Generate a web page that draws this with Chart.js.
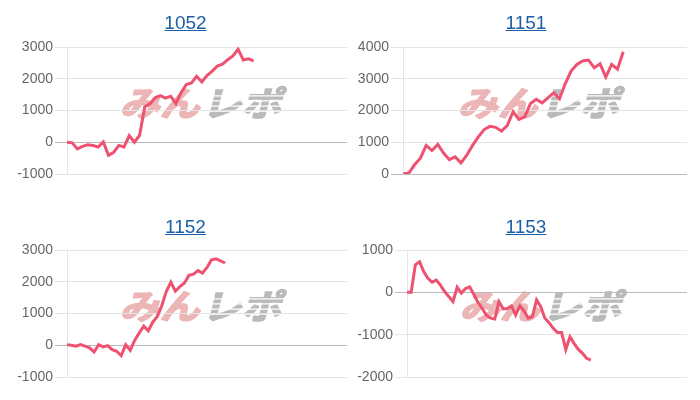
<!DOCTYPE html>
<html>
<head>
<meta charset="utf-8">
<script src="https://cdn.jsdelivr.net/npm/chart.js@4"></script>
<style>
  body{margin:0;background:#fff;}
  #wrap{position:relative;width:700px;height:400px;overflow:hidden;}
  .panel{position:absolute;width:350px;height:200px;}
  .panel canvas{position:absolute;left:0;top:0;}
  .ttl{position:absolute;width:200px;text-align:center;font:19px Arial,"Liberation Sans",sans-serif;z-index:2;}
  .ttl a{color:#1d5fa6;text-decoration:underline;}
</style>
</head>
<body>
<div id="wrap"></div>
<script>
// data
const titles = ["1052", "1151", "1152", "1153"];
const values1052 = [0, -20, -210, -130, -80, -100, -150, 10, -410, -320, -100, -150, 210, 0, 220, 1120, 1210, 1400, 1470, 1390, 1450, 1220, 1560, 1820, 1870, 2080, 1900, 2100, 2240, 2400, 2460, 2600, 2720, 2930, 2590, 2630, 2560];
const values1151 = [0, 30, 290, 500, 900, 740, 930, 660, 450, 540, 350, 590, 900, 1170, 1400, 1500, 1470, 1350, 1530, 1960, 1720, 1800, 2220, 2350, 2240, 2400, 2560, 2370, 2850, 3240, 3450, 3560, 3590, 3350, 3470, 3050, 3450, 3300, 3850];
const values1152 = [20, 0, -30, 20, -30, -80, -210, 20, -50, -10, -140, -190, -330, 20, -160, 160, 390, 600, 460, 730, 910, 1250, 1700, 1990, 1700, 1850, 1960, 2200, 2240, 2350, 2270, 2450, 2690, 2720, 2660, 2590];
const values1153 = [0, 0, 650, 720, 490, 330, 240, 290, 170, 20, -100, -220, 120, -20, 90, 130, -50, -240, -380, -540, -610, -630, -220, -390, -380, -320, -540, -320, -440, -610, -580, -180, -340, -610, -720, -850, -950, -950, -1350, -1050, -1210, -1350, -1440, -1560, -1600];
const series = [values1052, values1151, values1152, values1153];
const slotCounts = [55, 50, 63, 68];   // hidden x categories per chart
const yMins = [-1000, 0, -1000, -2000];
const yMaxs = [3000, 4000, 3000, 1000];
const yStep = 1000;

// layout of the four panels
const panels = [
  {left:0,   top:0,   titleX:185.5, titleTop:12.4, axisW:67, padT:47, padB:26, padR:3},
  {left:350, top:0,   titleX:526,   titleTop:12.4, axisW:53, padT:47, padB:26, padR:13},
  {left:0,   top:200, titleX:185.5, titleTop:15.7, axisW:67, padT:50, padB:23, padR:3},
  {left:350, top:200, titleX:526,   titleTop:15.7, axisW:57, padT:50, padB:23, padR:13}
];

Chart.defaults.font.family = "Arial, 'Liberation Sans', sans-serif";

// site logo drawn faintly behind the plot
const watermark = {
  id: "watermark",
  beforeDraw(chart){
    const a = chart.chartArea, ctx = chart.ctx;
    const cx = (a.left + a.right)/2 - 4, cy = (a.top + a.bottom)/2 - 7;
    ctx.save();
    ctx.font = "bold 40px 'Noto Sans CJK JP'";
    const w1 = ctx.measureText("みん").width, w2 = ctx.measureText("レポ").width;
    const sx = 160/(w1 + w2);
    ctx.translate(cx, cy);
    ctx.transform(1, 0, -0.25, 1, 0, 0);
    ctx.scale(sx, 0.85);
    ctx.textBaseline = "middle";
    ctx.lineJoin = "round";
    ctx.lineWidth = 2;
    const x0 = -(w1 + w2)/2;
    ctx.fillStyle = ctx.strokeStyle = "#ecb6b6";
    ctx.strokeText("みん", x0, 0);
    ctx.fillText("みん", x0, 0);
    ctx.fillStyle = ctx.strokeStyle = "#bababa";
    ctx.strokeText("レポ", x0 + w1 + 2, 0);
    ctx.fillText("レポ", x0 + w1 + 2, 0);
    // speed stripes through the grey part
    ctx.strokeStyle = "#fff";
    ctx.lineWidth = 1.4;
    [-9, -3, 3, 9].forEach(dy => {
      ctx.beginPath();
      ctx.moveTo(x0 + w1, dy);
      ctx.lineTo(-x0 + 8, dy);
      ctx.stroke();
    });
    ctx.restore();
  }
};

const wrap = document.getElementById("wrap");
panels.forEach((p, i) => {
  const div = document.createElement("div");
  div.className = "panel";
  div.style.left = p.left + "px";
  div.style.top = p.top + "px";
  const t = document.createElement("div");
  t.className = "ttl";
  t.style.left = (p.titleX - p.left - 100) + "px";
  t.style.top = p.titleTop + "px";
  t.innerHTML = '<a href="#">' + titles[i] + '</a>';
  const cv = document.createElement("canvas");
  cv.width = 350; cv.height = 200;
  div.appendChild(cv);
  div.appendChild(t);
  wrap.appendChild(div);

  const labels = Array.from({length: slotCounts[i]}, (_, k) => String(k + 1));
  new Chart(cv.getContext("2d"), {
    type: "line",
    data: {
      labels: labels,
      datasets: [{
        data: series[i],
        borderColor: "rgb(238, 82, 112)",
        borderWidth: 3,
        pointRadius: 0,
        tension: 0,
        fill: false
      }]
    },
    options: {
      responsive: false,
      animation: false,
      layout: {padding: {top: p.padT, bottom: p.padB, left: 0, right: p.padR}},
      plugins: {legend: {display: false}, tooltip: {enabled: false}},
      scales: {
        x: {display: false},
        y: {
          min: yMins[i], max: yMaxs[i],
          ticks: {stepSize: yStep, color: "#666", font: {size: 14}, padding: 2,
                  callback: v => String(v)},
          grid: {
            color: c => (c.tick && c.tick.value === 0) ? "#bcbcbc" : "#e5e5e5",
            tickLength: 12
          },
          border: {color: "#e5e5e5"},
          afterFit: s => { s.width = p.axisW; }
        }
      }
    },
    plugins: [watermark]
  });
});
</script>
</body>
</html>
